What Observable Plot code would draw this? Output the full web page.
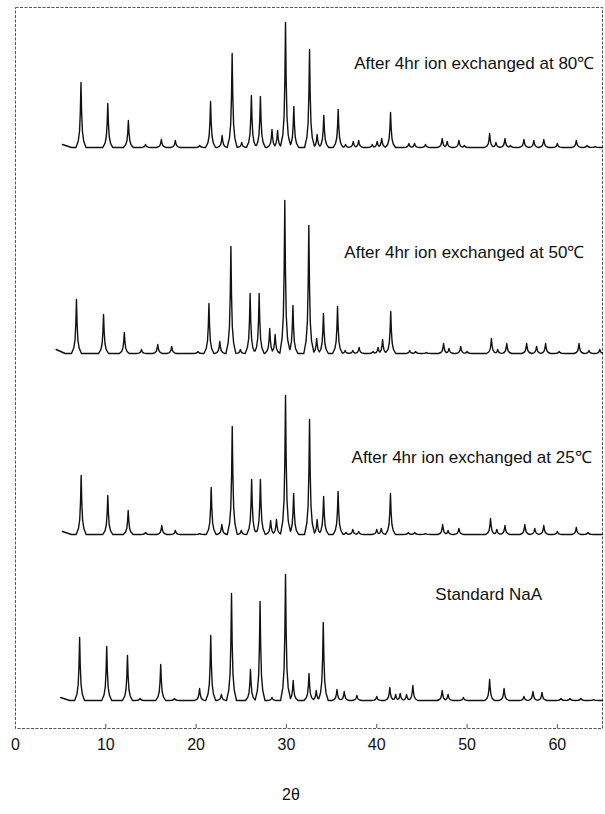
<!DOCTYPE html>
<html><head><meta charset="utf-8">
<script src="https://cdn.jsdelivr.net/npm/d3@7"></script>
<script src="https://cdn.jsdelivr.net/npm/@observablehq/plot@0.6"></script>
<style>body{margin:0;background:#fff}</style>
</head><body><div id="chart"></div>
<script>
// ---------- data ----------
const samples = ["After 4hr ion exchanged at 80\u2103", "After 4hr ion exchanged at 50\u2103", "After 4hr ion exchanged at 25\u2103", "Standard NaA"];

// peak positions (2θ) and heights (intensity, arbitrary units)
const pos80 = [7.25,10.22,12.5,14.4,16.15,17.7,20.4,21.6,22.88,23.99,25.05,26.12,27.12,28.4,29.02,29.9,30.82,32.56,33.4,34.14,35.73,36.55,37.4,38.0,39.5,40.05,40.55,41.53,43.56,44.19,45.4,47.25,47.8,49.1,49.7,52.5,53.2,54.2,54.8,56.3,57.4,58.5,60.0,62.1,63.3,64.2];
const int80 = [65,44,27,3,8,7,2,46,12,94,5,52,51,18,17,125,41,98,13,32,38,3,6,7,3,6,9,35,4,4,3,9,6,7,2,14,5,9,2,8,7,8,4,7,2,1];

const pos50 = [6.75,9.75,12.05,13.95,15.75,17.3,20.2,21.42,22.62,23.85,24.9,25.98,26.98,28.15,28.75,29.82,30.72,32.48,33.35,34.1,35.66,36.5,37.35,38.05,39.6,40.15,40.65,41.55,43.65,44.3,45.5,47.4,48.0,49.3,50.0,52.7,53.4,54.4,56.6,57.7,58.7,60.2,62.4,63.5,64.7];
const int50 = [54,39,21,4,9,7,2,50,12,107,4,60,60,25,19,153,48,128,15,40,47,3,3,6,2,6,14,42,3,2,1,10,5,7,2,15,4,10,10,7,10,2,10,3,4];

const pos25 = [7.27,10.22,12.48,14.4,16.2,17.7,20.4,21.67,22.85,24.0,25.0,26.15,27.12,28.25,28.9,29.9,30.8,32.56,33.4,34.12,35.72,36.6,37.35,38.0,40.0,40.5,41.52,43.5,44.2,45.4,47.3,47.9,49.1,52.6,53.3,54.2,56.4,57.5,58.5,60.0,62.1,63.4];
const int25 = [59,39,24,2,9,4,1,47,10,108,4,55,55,14,15,139,41,115,15,38,43,2,5,3,5,6,41,2,2,1,10,4,6,16,5,9,10,6,9,3,7,2];

const posStd = [7.1,10.1,12.4,13.8,16.08,17.6,20.38,21.62,22.8,23.92,26.02,27.08,28.4,29.9,30.75,32.5,33.3,34.08,35.6,36.4,37.8,40.0,41.45,42.1,42.6,43.3,44.0,47.25,47.9,49.6,52.5,54.1,56.3,57.3,58.3,60.4,61.4,62.6,64.0];
const intStd = [63,54,45,2,36,2,12,65,6,107,31,99,3,126,20,27,10,78,11,9,5,4,13,6,7,6,15,10,6,3,21,12,4,9,8,2,2,2,1];

const scanStart = [5.2, 4.5, 5.2, 5.0];
const startLevel = [3, 4, 3, 3];
const scanEnd = 65;

const xTicks = [0, 10, 20, 30, 40, 50, 60];
const xTitle = "2\u03b8";

// ---------- layout ----------
const stackOffset = [581, 375, 194, 28];          // vertical stacking of the four patterns
const labelX = [50.8, 49.7, 50.5, 52.4];
const labelY = [665, 476, 271, 134];
// peak outline (offset in 2θ, fraction of height)
const shape = [[-0.55,0],[-0.3,0.1],[-0.16,0.25],[-0.07,0.55],[0,1],[0.07,0.55],[0.16,0.25],[0.3,0.1],[0.55,0]];

const traces = [[pos80,int80],[pos50,int50],[pos25,int25],[posStd,intStd]];
const rows = [];
traces.forEach(([P, I], k) => {
  const start = scanStart[k];
  let xs = [start, start + 1, scanEnd];
  P.forEach(p => shape.forEach(([dx]) => xs.push(p + dx)));
  xs = Array.from(new Set(xs.map(v => +v.toFixed(3)))).filter(v => v >= start && v <= scanEnd).sort((a,b)=>a-b);
  const bg = x => x < start + 1 ? startLevel[k] * (1 - (x - start)) : 0;
  const pk = (x, p, h) => {
    const d = x - p;
    for (let j = 0; j < shape.length - 1; j++) {
      const [a, fa] = shape[j], [b, fb] = shape[j+1];
      if (d >= a && d <= b) return h * (fa + (fb - fa) * (d - a) / (b - a));
    }
    return 0;
  };
  xs.forEach(x => {
    let v = bg(x);
    P.forEach((p, j) => { v = Math.max(v, pk(x, p, I[j])); });
    rows.push({sample: samples[k], x, y: stackOffset[k] + v});
  });
});

const labels = samples.map((s, k) => ({s, x: labelX[k], y: labelY[k]}));

const chart = Plot.plot({
  width: 605, height: 814,
  marginLeft: 15, marginRight: 3, marginTop: 7, marginBottom: 86,
  style: {fontFamily: "'Liberation Sans', Arial, sans-serif", fontSize: "16px", color: "#111", background: "#fff"},
  x: {domain: [0, 65]},
  y: {domain: [0, 721], axis: null},
  marks: [
    Plot.frame({stroke: "#555", strokeDasharray: "3,1.5"}),
    Plot.ruleX(xTicks.slice(1), {y1: 0, y2: 4, stroke: "#555"}),
    Plot.axisX(xTicks, {anchor: "bottom", tickSize: 0, tickPadding: 10, fontSize: 16, label: null}),
    Plot.line(rows, {x: "x", y: "y", z: "sample", stroke: "#111", strokeWidth: 1.4, curve: "linear"}),
    Plot.text(labels, {x: "x", y: "y", text: "s", fontSize: 17, fill: "#111"}),
    Plot.text([xTitle], {x: 30.5, y: -66, text: d => d, fontSize: 16, fill: "#111"})
  ]
});
document.getElementById("chart").appendChild(chart);
</script>
</body></html>
